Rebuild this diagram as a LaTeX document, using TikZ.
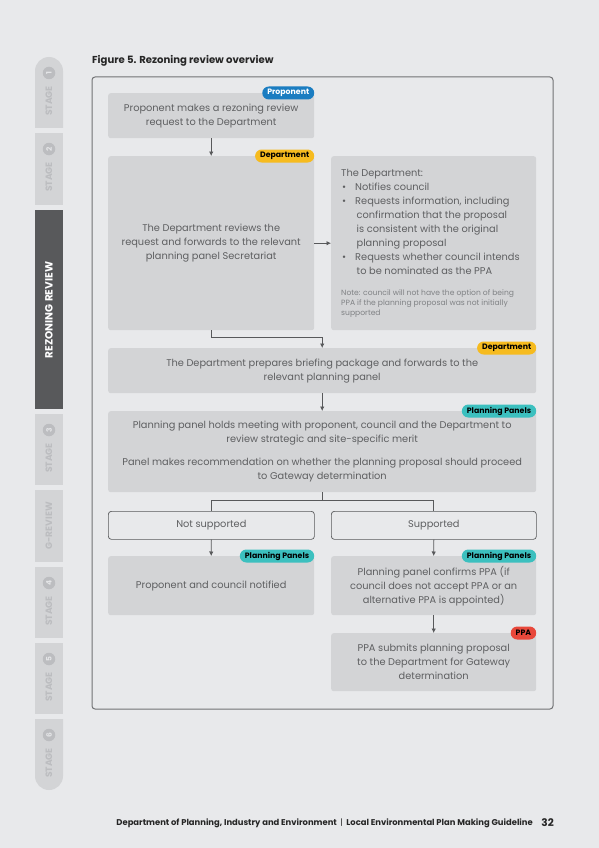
\documentclass[tikz,border=0pt]{standalone}
\usepackage{fontspec}
\setmainfont{Poppins}
\usetikzlibrary{arrows.meta,calc}
\definecolor{bg}{HTML}{E8E9EB}
\definecolor{boxg}{HTML}{D3D4D6}
\definecolor{txt}{HTML}{5E5F61}
\definecolor{linec}{HTML}{58595B}
\definecolor{tabg}{HTML}{D3D4D6}
\definecolor{tabtxt}{HTML}{BCBDC0}
\definecolor{tabdark}{HTML}{58595B}
\definecolor{tblue}{HTML}{1B7DC1}
\definecolor{tyellow}{HTML}{F6BB1F}
\definecolor{tteal}{HTML}{3CC0BF}
\definecolor{tred}{HTML}{E8483B}
\definecolor{notec}{HTML}{808285}
\tikzset{
  box/.style={fill=boxg, rounded corners=2.5pt, anchor=north west, inner sep=0pt,
    text=txt, font=\fontsize{9.8}{14}\selectfont, align=center},
  outbox/.style={draw=linec, line width=0.7pt, fill=bg, rounded corners=3pt, anchor=north west,
    inner sep=0pt, text=txt, font=\fontsize{9.8}{13}\selectfont},
  tag/.style={rounded corners=6.5pt, anchor=east, inner xsep=5pt, inner ysep=0pt,
    minimum height=13pt, font=\bfseries\fontsize{7.8}{8}\selectfont},
  arr/.style={draw=linec, line width=0.8pt, -{Latex[length=4.5pt,width=4.5pt]}},
  conn/.style={draw=linec, line width=0.8pt},
  stagetxt/.style={rotate=90, text=tabtxt, font=\bfseries\fontsize{9.2}{9}\selectfont},
  stagenum/.style={circle, fill=tabtxt, text=tabg!60!white, inner sep=0pt, minimum size=12.5pt,
    font=\bfseries\fontsize{7.5}{8}\selectfont, rotate=90},
}
\begin{document}
\begin{tikzpicture}[x=1pt,y=-1pt]
\fill[bg] (0,0) rectangle (599,848);
\useasboundingbox (0,0) rectangle (599,848);

% side tabs
\fill[tabg] (35,128) [rounded corners=14pt] -- (35,57) -- (63,57) [sharp corners] -- (63,128) -- cycle;
\fill[tabg] (35,133) rectangle (63,205);
\fill[tabdark] (35,210) rectangle (63,409);
\fill[tabg] (35,414) rectangle (63,485);
\fill[tabg] (35,490) rectangle (63,562);
\fill[tabg] (35,567) rectangle (63,638);
\fill[tabg] (35,643) rectangle (63,714);
\fill[tabg] (35,719) -- (63,719) [rounded corners=14pt] -- (63,790) -- (35,790) [sharp corners] -- cycle;

\node[stagenum] (n1) at (49,73) {1};
\node[stagetxt] (s1) at (49,101) {STAGE};
\node[stagenum] (n2) at (49,149) {2};
\node[stagetxt] (s2) at (49,177) {STAGE};
\node[rotate=90, text=white, font=\bfseries\fontsize{10.5}{10}\selectfont] (rr) at (49,310) {REZONING REVIEW};
\node[stagenum] (n3) at (49,430) {3};
\node[stagetxt] (s3) at (49,458) {STAGE};
\node[stagetxt] (gr) at (49,526) {G-REVIEW};
\node[stagenum] (n4) at (49,583) {4};
\node[stagetxt] (s4) at (49,611) {STAGE};
\node[stagenum] (n5) at (49,659) {5};
\node[stagetxt] (s5) at (49,687) {STAGE};
\node[stagenum] (n6) at (49,735) {6};
\node[stagetxt] (s6) at (49,763) {STAGE};

% title
\node[anchor=west, inner sep=0pt, font=\bfseries\fontsize{10.1}{10}\selectfont, text=black!85] (title) at (92,61) {Figure 5. Rezoning review overview};

% frame
\draw[draw=linec!85, line width=1pt, rounded corners=3pt] (92,77) rectangle (553,709);

% boxes
\node[box, minimum width=206pt, minimum height=45pt] (b1) at (108,93) {Proponent makes a rezoning review\\request to the Department};
\node[tag, fill=tblue, text=white] (t1) at (b1.north east) {Proponent};

\node[box, minimum width=206pt, minimum height=174pt] (b2) at (108,156) {The Department reviews the\\request and forwards to the relevant\\planning panel Secretariat};
\node[tag, fill=tyellow, text=black] (t2) at (b2.north east) {Department};

\node[box, minimum width=205pt, minimum height=174pt] (b3) at (331,156) {};
\node[anchor=north west, inner sep=0pt, text=txt, align=left, font=\fontsize{9.8}{14}\selectfont] (b3t) at (341,169.5) {The Department:\\
\hspace*{1pt}\textbullet\hspace{9pt}Notifies council\\
\hspace*{1pt}\textbullet\hspace{9pt}Requests information, including\\
\hspace*{15.5pt}confirmation that the proposal\\
\hspace*{15.5pt}is consistent with the original\\
\hspace*{15.5pt}planning proposal\\
\hspace*{1pt}\textbullet\hspace{9pt}Requests whether council intends\\
\hspace*{15.5pt}to be nominated as the PPA};
\node[anchor=north west, inner sep=0pt, text=notec, align=left, font=\fontsize{7.6}{10}\selectfont] (b3n) at (341,289) {Note: council will not have the option of being\\PPA if the planning proposal was not initially\\supported};

\node[box, minimum width=428pt, minimum height=45pt] (b4) at (108,348) {The Department prepares briefing package and forwards to the\\relevant planning panel};
\node[tag, fill=tyellow, text=black] (t4) at (b4.north east) {Department};

\node[box, minimum width=428pt, minimum height=81pt] (b5) at (108,411) {Planning panel holds meeting with proponent, council and the Department to\\review strategic and site-specific merit\\[9pt]Panel makes recommendation on whether the planning proposal should proceed\\to Gateway determination};
\node[tag, fill=tteal, text=black] (t5) at (b5.north east) {Planning Panels};

\node[outbox, minimum width=206pt, minimum height=28pt] (ns) at (108,511) {Not supported};
\node[outbox, minimum width=205pt, minimum height=28pt] (su) at (331,511) {Supported};

\node[box, minimum width=206pt, minimum height=59pt] (b6) at (108,556) {Proponent and council notified};
\node[tag, fill=tteal, text=black] (t6) at (b6.north east) {Planning Panels};

\node[box, minimum width=205pt, minimum height=59pt] (b7) at (331,556) {Planning panel confirms PPA (if\\council does not accept PPA or an\\alternative PPA is appointed)};
\node[tag, fill=tteal, text=black] (t7) at (b7.north east) {Planning Panels};

\node[box, minimum width=205pt, minimum height=58pt] (b8) at (331,633) {PPA submits planning proposal\\to the Department for Gateway\\determination};
\node[tag, fill=tred, text=black] (t8) at (b8.north east) {PPA};

% connectors
\draw[arr] (b1.south) -- (b2.north);
\draw[arr] (b2.east) -- (b3.west);
\coordinate (j1) at ($(b2.south)+(0,7)$);
\draw[arr] (b2.south) -- (j1) -| (b4.north);
\draw[arr] (b4.south) -- (b5.north);
\coordinate (j2) at ($(b5.south)+(0,8)$);
\draw[conn] (b5.south) -- (j2);
\draw[conn] (ns.north) |- (j2) -| (su.north);
\draw[arr] (ns.south) -- (b6.north);
\draw[arr] (su.south) -- (b7.north);
\draw[arr] (b7.south) -- (b8.north);

% footer
\node[anchor=east, inner sep=0pt, font=\bfseries\fontsize{8.4}{8}\selectfont, text=black!85] (foot) at (533,823) {Department of Planning, Industry and Environment \ {\mdseries|}\ \ Local Environmental Plan Making Guideline};
\node[anchor=east, inner sep=0pt, font=\bfseries\fontsize{10.5}{10}\selectfont, text=black!85] (pg) at (554,822.5) {32};
\end{tikzpicture}
\end{document}
